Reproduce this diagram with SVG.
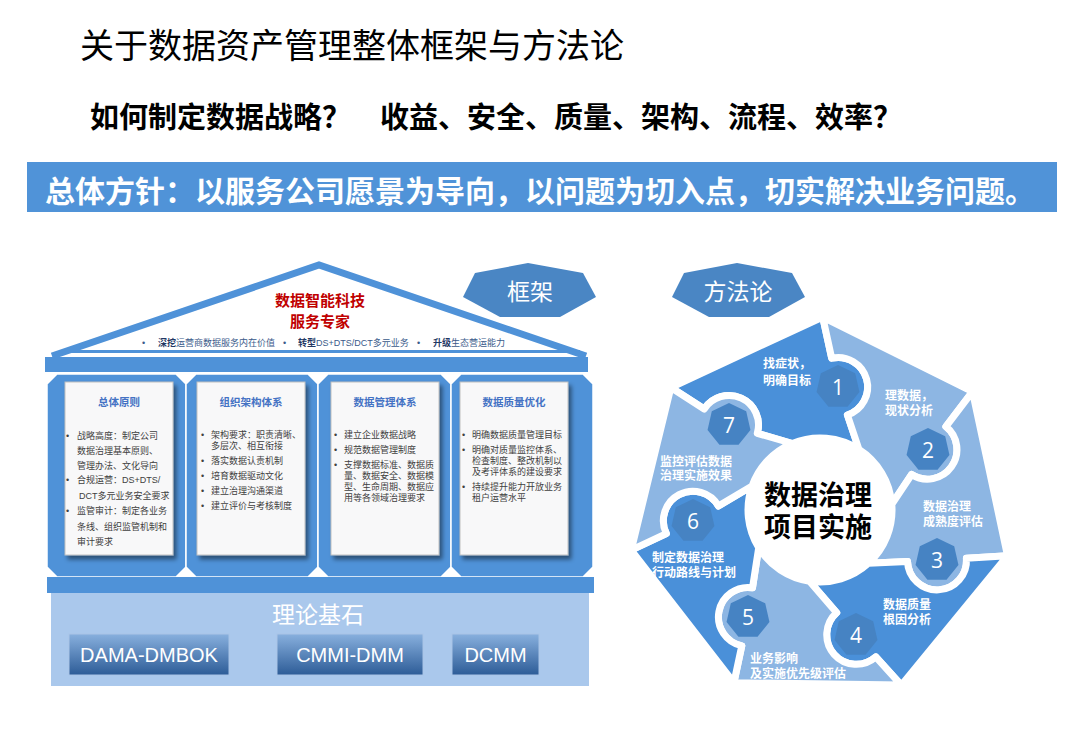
<svg xmlns="http://www.w3.org/2000/svg" width="1080" height="736" viewBox="0 0 1080 736">
<style>
.cjk{font-family:"Liberation Sans","Noto Sans CJK SC",sans-serif}
.title{font-size:34px;fill:#000}
.sub{font-size:29px;font-weight:bold;fill:#000}
.bt{font-size:30px;font-weight:bold;fill:#fff}
.red{font-size:15px;font-weight:bold;fill:#C00000;text-anchor:middle}
.rb{font-size:9px;fill:#3A5A8A}
.rbb{font-weight:bold;fill:#1F3864}
.ph{font-size:10.5px;font-weight:bold;fill:#4472C4;text-anchor:middle}
.pt{font-size:9px;fill:#404040}
.card{fill:#F8F8F9;stroke:#C0C0C0;stroke-width:1}
.blue{fill:#4F92D8}
.col{fill:#4F92D8;stroke:#fff;stroke-width:1.5}
.btn{fill:url(#btnGrad);stroke:#A9C4E6;stroke-width:1}
.btt{font-family:"Liberation Sans",sans-serif;font-size:20px;fill:#fff;text-anchor:middle}
.seg{stroke:#fff;stroke-width:7;stroke-linejoin:round}
.dark{fill:#4A90D9}
.light{fill:#8DB6E3}
.badge{fill:#4683C3}
.num{font-family:"Open Sans","Liberation Sans",sans-serif;font-size:21px;fill:#fff;text-anchor:middle}
.sl{font-size:12px;font-weight:bold;fill:#fff}
.tag{fill:#4A86C4}
.tagt{font-size:23px;fill:#fff;text-anchor:middle}
.base-t{font-size:23px;fill:#fff;text-anchor:middle}
.center-t{font-size:27px;font-weight:bold;fill:#000;text-anchor:middle}
</style>
<defs>
<linearGradient id="btnGrad" x1="0" y1="0" x2="0" y2="1">
<stop offset="0" stop-color="#88B0DE"/>
<stop offset="1" stop-color="#2D5C97"/>
</linearGradient>
<filter id="sh" x="-20%" y="-20%" width="140%" height="140%">
<feDropShadow dx="3" dy="4" stdDeviation="2" flood-color="#000" flood-opacity="0.45"/>
</filter>
<polygon id="hep" points="0,-22 17.2,-13.72 21.45,4.9 9.55,19.82 -9.55,19.82 -21.45,4.9 -17.2,-13.72"/>
</defs>
<rect width="1080" height="736" fill="#fff"/>

<g id="header">
<text x="80" y="58" class="cjk title">关于数据资产管理整体框架与方法论</text>
<text x="90" y="128" class="cjk sub">如何制定数据战略？</text>
<text x="380" y="128" class="cjk sub">收益、安全、质量、架构、流程、效率？</text>
</g>

<g id="banner">
<rect x="27" y="162" width="1030" height="50" fill="#5093D8"/>
<text x="45" y="202" class="cjk bt">总体方针：以服务公司愿景为导向，以问题为切入点，切实解决业务问题。</text>
</g>

<g id="roof">
<path d="M52,356 L319,265 L586,356" fill="#fff" stroke="#4F92D8" stroke-width="7" stroke-linejoin="miter"/>
<rect x="60" y="350" width="520" height="3" class="blue"/>
<rect x="45" y="357" width="543" height="15" class="blue"/>
<text x="320" y="306" class="cjk red">数据智能科技</text>
<text x="320" y="327" class="cjk red">服务专家</text>
<text x="142" y="346" class="cjk rb">•</text>
<text x="158" y="346" class="cjk rb"><tspan class="rbb">深挖</tspan>运营商数据服务内在价值</text>
<text x="283" y="346" class="cjk rb">•</text>
<text x="298" y="346" class="cjk rb"><tspan class="rbb">转型</tspan>DS+DTS/DCT多元业务</text>
<text x="417" y="346" class="cjk rb">•</text>
<text x="433" y="346" class="cjk rb"><tspan class="rbb">升级</tspan>生态营运能力</text>
</g>

<g id="columns">
<polygon class="col" points="57,374 176,374 186,384 186,567 176,577 57,577 47,567 47,384"/>
<polygon class="col" points="196,374 308,374 318,384 318,567 308,577 196,577 186,567 186,384"/>
<polygon class="col" points="328,374 441,374 451,384 451,567 441,577 328,577 318,567 318,384"/>
<polygon class="col" points="461,374 583,374 593,384 593,567 583,577 461,577 451,567 451,384"/>
</g>

<g id="pillar1">
<rect x="65" y="382" width="108" height="173" class="card" filter="url(#sh)"/>
<text x="119" y="406" class="cjk ph">总体原则</text>
<text x="66" y="439" class="cjk pt">•</text>
<text x="77" y="439" class="cjk pt">战略高度：制定公司</text>
<text x="77" y="454" class="cjk pt">数据治理基本原则、</text>
<text x="77" y="469" class="cjk pt">管理办法、文化导向</text>
<text x="66" y="483" class="cjk pt">•</text>
<text x="77" y="483" class="cjk pt">合规运营：DS+DTS/</text>
<text x="79" y="499" class="cjk pt">DCT多元业务安全要求</text>
<text x="66" y="514" class="cjk pt">•</text>
<text x="77" y="514" class="cjk pt">监管审计：制定各业务</text>
<text x="77" y="530" class="cjk pt">条线、组织监管机制和</text>
<text x="77" y="545" class="cjk pt">审计要求</text>
</g>

<g id="pillar2">
<rect x="197" y="382" width="108" height="173" class="card" filter="url(#sh)"/>
<text x="251" y="406" class="cjk ph">组织架构体系</text>
<text x="201" y="438" class="cjk pt">•</text>
<text x="211" y="438" class="cjk pt">架构要求：职责清晰、</text>
<text x="211" y="449" class="cjk pt">多层次、相互衔接</text>
<text x="201" y="464" class="cjk pt">•</text>
<text x="211" y="464" class="cjk pt">落实数据认责机制</text>
<text x="201" y="479" class="cjk pt">•</text>
<text x="211" y="479" class="cjk pt">培育数据驱动文化</text>
<text x="201" y="494" class="cjk pt">•</text>
<text x="211" y="494" class="cjk pt">建立治理沟通渠道</text>
<text x="201" y="509" class="cjk pt">•</text>
<text x="211" y="509" class="cjk pt">建立评价与考核制度</text>
</g>

<g id="pillar3">
<rect x="331" y="382" width="108" height="173" class="card" filter="url(#sh)"/>
<text x="385" y="406" class="cjk ph">数据管理体系</text>
<text x="334" y="438" class="cjk pt">•</text>
<text x="344" y="438" class="cjk pt">建立企业数据战略</text>
<text x="334" y="453" class="cjk pt">•</text>
<text x="344" y="453" class="cjk pt">规范数据管理制度</text>
<text x="334" y="468" class="cjk pt">•</text>
<text x="344" y="468" class="cjk pt">支撑数据标准、数据质</text>
<text x="344" y="479" class="cjk pt">量、数据安全、数据模</text>
<text x="344" y="490" class="cjk pt">型、生命周期、数据应</text>
<text x="344" y="501" class="cjk pt">用等各领域治理要求</text>
</g>

<g id="pillar4">
<rect x="460" y="382" width="108" height="173" class="card" filter="url(#sh)"/>
<text x="514" y="406" class="cjk ph">数据质量优化</text>
<text x="462" y="438" class="cjk pt">•</text>
<text x="472" y="438" class="cjk pt">明确数据质量管理目标</text>
<text x="462" y="453" class="cjk pt">•</text>
<text x="472" y="453" class="cjk pt">明确对质量监控体系、</text>
<text x="472" y="464" class="cjk pt">检查制度、整改机制以</text>
<text x="472" y="475" class="cjk pt">及考评体系的建设要求</text>
<text x="462" y="490" class="cjk pt">•</text>
<text x="472" y="490" class="cjk pt">持续提升能力开放业务</text>
<text x="472" y="501" class="cjk pt">租户运营水平</text>
</g>

<g id="foundation">
<rect x="47" y="577" width="547" height="16" class="blue"/>
<rect x="51" y="593" width="538" height="93" fill="#AAC8EC"/>
<text x="318" y="623" class="cjk base-t">理论基石</text>
<g id="dama">
<rect x="69" y="634" width="160" height="41" class="btn"/>
<text x="149" y="662" class="btt">DAMA-DMBOK</text>
</g>
<g id="cmmi">
<rect x="277" y="634" width="146" height="41" class="btn"/>
<text x="350" y="662" class="btt">CMMI-DMM</text>
</g>
<g id="dcmm">
<rect x="452" y="634" width="87" height="41" class="btn"/>
<text x="495.5" y="662" class="btt">DCMM</text>
</g>
</g>

<g id="tag-framework">
<polygon class="tag" points="528,263 583,273 596,297 560,317 500,317 463,297 475,273"/>
<text x="530" y="300" class="cjk tagt">框架</text>
</g>
<g id="tag-method">
<polygon class="tag" points="737,263 792,273 805,297 769,317 709,317 672,297 684,273"/>
<text x="738" y="300" class="cjk tagt">方法论</text>
</g>

<g id="connectors"/>

<g id="cycle">
<path id="seg1" class="seg dark" d="M670.9,387.5 L822.7,317 L831.7,358.2 A29.5,29.5 0 0 1 847.4,415 L859,449.5 A72,72 0 0 0 792.4,443.5 L757.3,433.3 A29.5,29.5 0 0 0 704.2,409 Z"/>
<path id="seg2" class="seg light" d="M822.7,317 L972.5,391.7 L945.9,426.6 A29.5,29.5 0 0 1 911.6,474.5 L891.8,504.2 A72,72 0 0 0 859,449.5 L847.4,415 A29.5,29.5 0 0 0 831.7,358.2 Z"/>
<path id="seg3" class="seg light" d="M972.5,391.7 L1007.5,555.7 L966.4,558.2 A29.5,29.5 0 1 1 907.5,561.4 L868.5,563.2 A72,72 0 0 0 891.8,504.2 L911.6,474.5 A29.5,29.5 0 0 0 945.9,426.6 Z"/>
<path id="seg4" class="seg dark" d="M1007.5,555.7 L901.3,685.1 L875.8,656.9 A29.5,29.5 0 1 1 836.7,612.7 L809.5,581.2 A72,72 0 0 0 868.5,563.2 L907.5,561.4 A29.5,29.5 0 1 0 966.4,558.2 Z"/>
<path id="seg5" class="seg light" d="M901.3,685.1 L733.9,682.7 L741.8,645.8 A29.5,29.5 0 0 1 752.5,587.8 L758.7,547.7 A72,72 0 0 0 809.5,581.2 L836.7,612.7 A29.5,29.5 0 1 0 875.8,656.9 Z"/>
<path id="seg6" class="seg dark" d="M733.9,682.7 L631.2,550.1 L666.3,533.6 A29.5,29.5 0 0 1 718.4,506 L752.1,486 A72,72 0 0 0 758.7,547.7 L752.5,587.8 A29.5,29.5 0 0 0 741.8,645.8 Z"/>
<path id="seg7" class="seg light" d="M631.2,550.1 L670.9,387.5 L704.2,409 A29.5,29.5 0 0 1 757.3,433.3 L792.4,443.5 A72,72 0 0 0 752.1,486 L718.4,506 A29.5,29.5 0 0 0 666.3,533.6 Z"/>

<g id="step1"><use href="#hep" class="badge" transform="translate(838,387)"/><text x="838" y="394.5" class="num">1</text>
<text x="763" y="368" class="cjk sl">找症状，</text><text x="763" y="385" class="cjk sl">明确目标</text></g>
<g id="step2"><use href="#hep" class="badge" transform="translate(928,450)"/><text x="928" y="457.5" class="num">2</text>
<text x="885" y="400" class="cjk sl">理数据，</text><text x="885" y="415" class="cjk sl">现状分析</text></g>
<g id="step3"><use href="#hep" class="badge" transform="translate(937,560)"/><text x="937" y="567.5" class="num">3</text>
<text x="923" y="511" class="cjk sl">数据治理</text><text x="923" y="526" class="cjk sl">成熟度评估</text></g>
<g id="step4"><use href="#hep" class="badge" transform="translate(856,635)"/><text x="856" y="642.5" class="num">4</text>
<text x="883" y="609" class="cjk sl">数据质量</text><text x="883" y="624" class="cjk sl">根因分析</text></g>
<g id="step5"><use href="#hep" class="badge" transform="translate(748,617)"/><text x="748" y="624.5" class="num">5</text>
<text x="750" y="663" class="cjk sl">业务影响</text><text x="750" y="678" class="cjk sl">及实施优先级评估</text></g>
<g id="step6"><use href="#hep" class="badge" transform="translate(693,521)"/><text x="693" y="528.5" class="num">6</text>
<text x="652" y="562" class="cjk sl">制定数据治理</text><text x="652" y="577" class="cjk sl">行动路线与计划</text></g>
<g id="step7"><use href="#hep" class="badge" transform="translate(729,425)"/><text x="729" y="432.5" class="num">7</text>
<text x="660" y="466" class="cjk sl">监控评估数据</text><text x="660" y="480" class="cjk sl">治理实施效果</text></g>

<g id="center">
<text x="818" y="505" class="cjk center-t">数据治理</text>
<text x="818" y="537" class="cjk center-t">项目实施</text>
</g>
</g>
</svg>
